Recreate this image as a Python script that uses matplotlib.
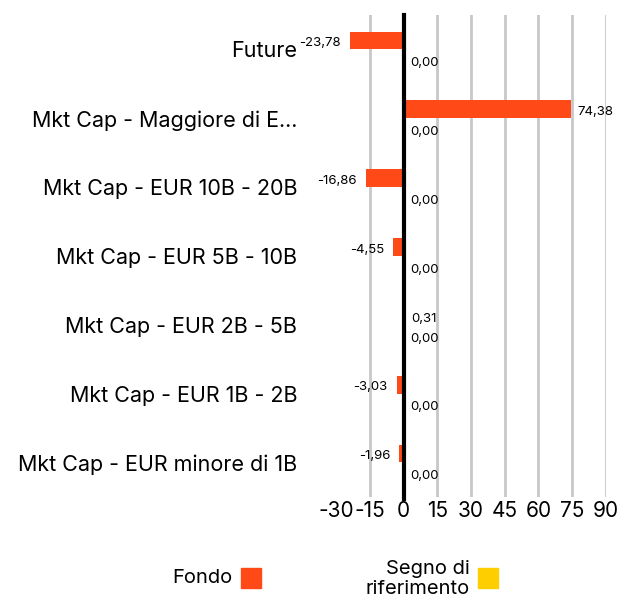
import matplotlib.pyplot as plt
import matplotlib.patches as mpatches
import numpy as np

plt.rcParams['font.family'] = ['Inter', 'DejaVu Sans']

categories = ["Future", "Mkt Cap - Maggiore di E...", "Mkt Cap - EUR 10B - 20B",
              "Mkt Cap - EUR 5B - 10B", "Mkt Cap - EUR 2B - 5B",
              "Mkt Cap - EUR 1B - 2B", "Mkt Cap - EUR minore di 1B"]
fondo = [-23.78, 74.38, -16.86, -4.55, 0.31, -3.03, -1.96]
riferimento = [0.00, 0.00, 0.00, 0.00, 0.00, 0.00, 0.00]
ticks = [-30, -15, 0, 15, 30, 45, 60, 75, 90]

c_fondo = "#FF4A17"
c_rif = "#FFCE00"

fig = plt.figure(figsize=(6.33, 6.03), dpi=100)
ax = fig.add_axes([0.531, 0.176, 0.426, 0.799])

y = np.arange(len(categories))
h = 0.26
ax.barh(y - h / 2, fondo, height=h, color=c_fondo, zorder=3)
ax.barh(y + h / 2, riferimento, height=h, color=c_rif, zorder=3)

def fmt(v):
    return f"{v:.2f}".replace(".", ",")

for yi, v in zip(y, fondo):
    if v < 0:
        ax.text(v - 4, yi - h / 2 + 0.04, fmt(v), ha="right", va="center", fontsize=9.5)
    else:
        ax.text(v + 3, yi - h / 2 + 0.04, fmt(v), ha="left", va="center", fontsize=9.5)
for yi, v in zip(y, riferimento):
    ax.text(v + 3, yi + h / 2 + 0.07, fmt(v), ha="left", va="center", fontsize=9.5)

ax.set_xlim(-30, 90)
ax.set_ylim(len(categories) - 0.5, -0.5)
ax.set_xticks(ticks)
ax.set_xticklabels([str(t) for t in ticks], fontsize=15)
ax.set_yticks(y)
ax.set_yticklabels(categories, fontsize=15.5)
ax.tick_params(length=0, pad=3)
ax.tick_params(axis="y", pad=28)
for s in ax.spines.values():
    s.set_visible(False)
for t in ticks[1:]:
    if t != 0:
        ax.axvline(t, color="#c8c8c8", lw=2, zorder=1)
ax.axvline(0, color="black", lw=3, zorder=4, ymin=-0.005, ymax=1.0, clip_on=False)

# legend
fig.text(233 / 633, 1 - 578 / 603, "Fondo", ha="right", va="center", fontsize=14.5)
fig.patches.append(mpatches.Rectangle((241 / 633, 1 - 588 / 603), 20 / 633, 20 / 603,
                                      transform=fig.transFigure, color=c_fondo))
fig.text(470 / 633, 1 - 579 / 603, "Segno di\nriferimento", ha="right", va="center",
         fontsize=14.5, linespacing=1.15)
fig.patches.append(mpatches.Rectangle((478 / 633, 1 - 588 / 603), 20 / 633, 20 / 603,
                                      transform=fig.transFigure, color=c_rif))

fig.savefig("out.png", dpi=100)
